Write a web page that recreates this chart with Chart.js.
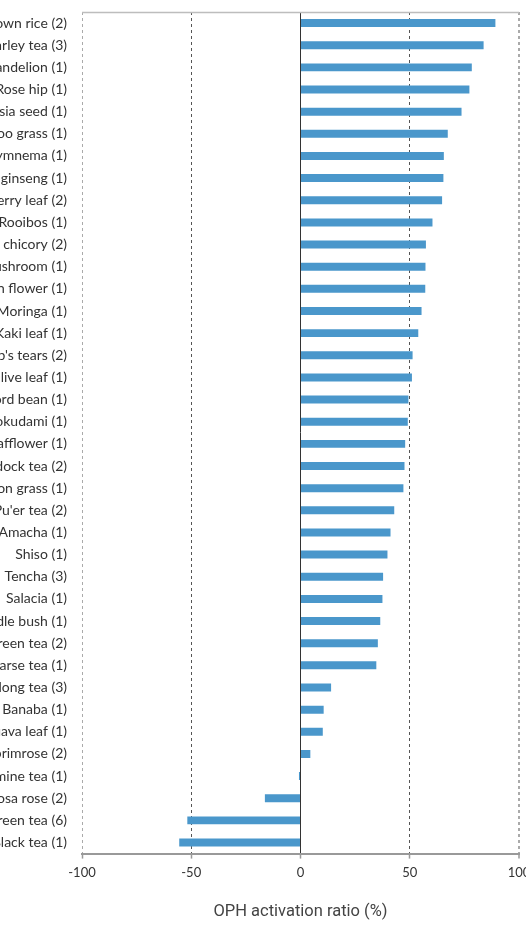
<!DOCTYPE html>
<html>
<head>
<meta charset="utf-8">
<script src="https://cdn.jsdelivr.net/npm/chart.js@4/dist/chart.umd.min.js"></script>
<style>
  html, body { margin: 0; padding: 0; background: #fff; overflow: hidden; }
  #wrap { position: absolute; left: -100px; top: 0; width: 640px; height: 933px; }
</style>
</head>
<body>
<div id="wrap"><canvas id="ophChart" width="640" height="933"></canvas></div>
<script>
// tea samples (number of products), top to bottom
const samples = [
  "Brown rice (2)", "Barley tea (3)", "Dandelion (1)", "Rose hip (1)",
  "Cassia seed (1)", "Bamboo grass (1)", "Gymnema (1)", "Korean ginseng (1)",
  "Mulberry leaf (2)", "Rooibos (1)", "Roasted chicory (2)", "Mushroom (1)",
  "Linden flower (1)", "Moringa (1)", "Kaki leaf (1)", "Job's tears (2)",
  "Olive leaf (1)", "Sword bean (1)", "Dokudami (1)", "Safflower (1)",
  "Burdock tea (2)", "Lemon grass (1)", "Pu'er tea (2)", "Amacha (1)",
  "Shiso (1)", "Tencha (3)", "Salacia (1)", "Needle bush (1)",
  "Green tea (2)", "Coarse tea (1)", "Oolong tea (3)", "Banaba (1)",
  "Guava leaf (1)", "Evening primrose (2)", "Jasmine tea (1)", "Rugosa rose (2)",
  "Green tea (6)", "Black tea (1)"
];

const activation = [
  89.2, 83.8, 78.4, 77.3,
  73.7, 67.4, 65.6, 65.4,
  64.8, 60.4, 57.4, 57.2,
  57.1, 55.4, 53.9, 51.3,
  51.0, 49.4, 49.1, 47.9,
  47.6, 47.1, 42.9, 41.2,
  39.8, 37.8, 37.5, 36.5,
  35.4, 34.7, 14.0, 10.6,
  10.2, 4.5, -0.7, -16.3,
  -51.8, -55.5
];

const xTicks = [-100, -50, 0, 50, 100];

// grey line along the top of the plot area
const topBorder = {
  id: "topBorder",
  afterDraw(chart) {
    const { ctx, chartArea } = chart;
    ctx.save();
    ctx.strokeStyle = "#bdbdbd";
    ctx.lineWidth = 1.5;
    ctx.beginPath();
    ctx.moveTo(chartArea.left, chartArea.top + 0.5);
    ctx.lineTo(chartArea.right, chartArea.top + 0.5);
    ctx.stroke();
    ctx.restore();
  },
};

const ctx = document.getElementById("ophChart").getContext("2d");
new Chart(ctx, {
  type: "bar",
  data: {
    labels: samples,
    datasets: [
      {
        data: activation,
        backgroundColor: "#4a97cb",
        borderWidth: 0,
        barPercentage: 0.36,
        categoryPercentage: 1,
      },
    ],
  },
  plugins: [topBorder],
  options: {
    indexAxis: "y",
    responsive: false,
    animation: false,
    layout: { padding: { top: 12, right: 21, bottom: 11, left: 0 } },
    plugins: {
      legend: { display: false },
      tooltip: { enabled: false },
    },
    scales: {
      x: {
        min: -100,
        max: 100,
        afterBuildTicks: (scale) => {
          scale.ticks = xTicks.map((v) => ({ value: v }));
        },
        ticks: {
          color: "#333",
          font: { family: "Lato", size: 13 },
          padding: 6,
        },
        grid: {
          color: (c) => {
            const v = c.tick ? c.tick.value : 0;
            if (v === 0) return "#333";
            if (Math.abs(v) === 50) return "#555";
            return "#aaa";
          },
          lineWidth: (c) => (c.tick && c.tick.value === 100 ? 2 : 1),
          drawTicks: true,
          tickLength: 5,
          tickColor: "#999",
          tickWidth: 1.5,
        },
        border: {
          display: true,
          color: "#999",
          width: 2,
          dash: (c) => (c.tick && c.tick.value === 0 ? [] : [3, 3]),
        },
        title: {
          display: true,
          text: "OPH activation ratio (%)",
          color: "#444",
          font: { family: "Roboto", size: 16.5 },
          padding: { top: 16, bottom: 0 },
        },
      },
      y: {
        afterFit: (scale) => {
          scale.width = 182;
          scale.paddingTop = 0;
          scale.paddingBottom = 0;
        },
        ticks: {
          color: "#333",
          font: { family: "Lato", size: 14 },
          padding: 15,
          autoSkip: false,
        },
        grid: { display: false, drawTicks: false },
        border: { display: false },
      },
    },
  },
});
</script>
</body>
</html>
